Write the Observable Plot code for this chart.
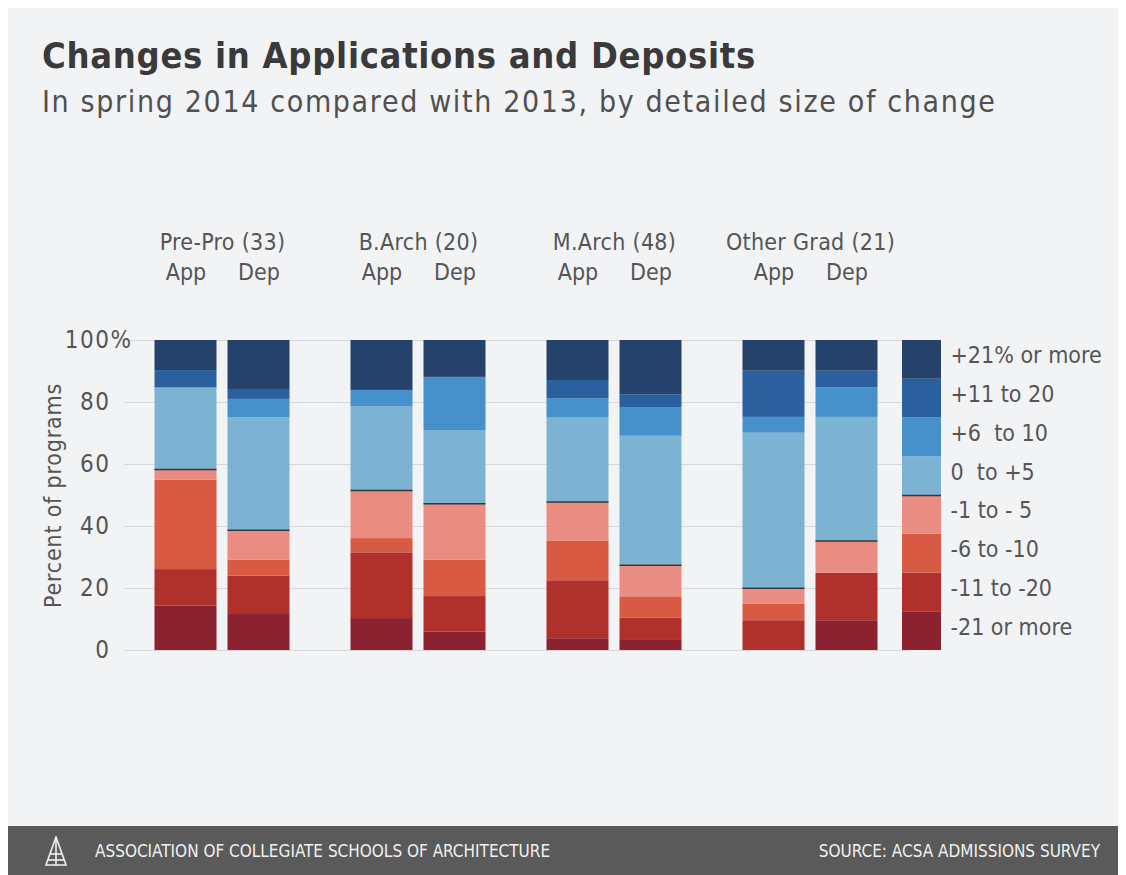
<!DOCTYPE html>
<html>
<head>
<meta charset="utf-8">
<script src="https://cdn.jsdelivr.net/npm/d3@7"></script>
<script src="https://cdn.jsdelivr.net/npm/@observablehq/plot@0.6"></script>
<style>
  body { margin: 0; background: #ffffff; width: 1126px; height: 875px; overflow: hidden; position: relative; }
  #panel { position: absolute; left: 8px; top: 8px; width: 1110px; height: 818px; background: #f2f3f5; }
  #title { position: absolute; left: 34px; top: 30px; font-family: "DejaVu Sans Condensed", "DejaVu Sans", sans-serif; font-weight: bold; font-size: 36px; letter-spacing: 0.7px; color: #3a3a3a; line-height: 1; white-space: nowrap; }
  #subtitle { position: absolute; left: 34px; top: 79px; font-family: "DejaVu Sans Condensed", "DejaVu Sans", sans-serif; font-size: 30px; letter-spacing: 1.65px; color: #505050; line-height: 1; white-space: nowrap; }
  #chart { position: absolute; left: 0; top: 207px; }
  #legend { position: absolute; left: 887px; top: 207px; }
  #footer { position: absolute; left: 8px; top: 826px; width: 1110px; height: 49px; background: #5a5a5a; color: #f0f0f0; font-family: "DejaVu Sans Condensed", sans-serif; font-size: 17px; }
  #footer .left { position: absolute; left: 87px; top: 15px; white-space: nowrap; }
  #footer .right { position: absolute; right: 18px; top: 15px; white-space: nowrap; }
  #footer svg { position: absolute; left: 36px; top: 10px; }
  text { white-space: pre; }
  #chart g[aria-label="fx-axis tick label"] { letter-spacing: 0.3px; }
  #chart g[aria-label="y-axis tick label"] { letter-spacing: 1.5px; }
  #chart g[aria-label="text"] { letter-spacing: 0.8px; }
</style>
</head>
<body>
<div id="panel">
  <div id="title">Changes in Applications and Deposits</div>
  <div id="subtitle">In spring 2014 compared with 2013, by detailed size of change</div>
  <div id="chart"></div>
  <div id="legend"></div>
</div>
<div id="footer">
  <svg width="24" height="30" viewBox="0 0 24 30">
    <g stroke="#f0f0f0" stroke-width="1.6" fill="none">
      <path d="M12 1 L2 29 L22 29 Z"/>
      <path d="M12 1 L12 29"/>
      <path d="M6 18 L18 18"/>
      <path d="M4 24 L20 24"/>
    </g>
  </svg>
  <div class="left">ASSOCIATION OF COLLEGIATE SCHOOLS OF ARCHITECTURE</div>
  <div class="right">SOURCE: ACSA ADMISSIONS SURVEY</div>
</div>
<script>
// ---- data ----
const groups = ["Pre-Pro (33)", "B.Arch (20)", "M.Arch (48)", "Other Grad (21)"];
const measures = ["App", "Dep"];
// categories listed bottom → top of each stack
const categories = ["-21 or more", "-11 to -20", "-6 to -10", "-1 to - 5", "0\u00a0 to +5", "+6\u00a0 to 10", "+11 to 20", "+21% or more"];
const colors = ["#8c2130", "#b0302b", "#d95a43", "#e98c82", "#7cb3d3", "#4690cb", "#2a609e", "#25426a"];
const yTicks = [0, 20, 40, 60, 80];
const yTop = [100];
// percent of programs in each category (bottom → top)
const prePro = [
  [14.3, 11.8, 28.8, 3.5, 26.3, 0, 5.6, 9.7],
  [11.6, 12.4, 5.1, 9.7, 36.3, 5.9, 3.2, 15.8]
];
const bArch = [
  [10.3, 21.2, 4.6, 15.5, 27.1, 5.2, 0, 16.1],
  [6.0, 11.4, 11.7, 18.2, 23.5, 17.3, 0, 11.9]
];
const mArch = [
  [3.8, 18.7, 12.7, 12.7, 27.1, 6.2, 5.9, 12.9],
  [3.5, 6.9, 6.9, 10.2, 41.6, 9.1, 4.3, 17.5]
];
const otherGrad = [
  [0, 9.6, 5.4, 5.1, 50.0, 5.1, 14.9, 9.9],
  [9.6, 15.3, 0, 10.4, 39.9, 9.6, 5.3, 9.9]
];
const legendShare = [12.5, 12.5, 12.5, 12.5, 12.5, 12.5, 12.5, 12.5];

// ---- tables ----
const series = [prePro, bArch, mArch, otherGrad];
const rows = [];
const seps = [];
groups.forEach((g, gi) => measures.forEach((m, mi) => {
  const vals = series[gi][mi];
  vals.forEach((v, ci) => rows.push({group: g, measure: m, category: categories[ci], value: v}));
  seps.push({group: g, measure: m, y: d3.sum(vals.slice(0, 4))});
}));
const legendRows = categories.map((c, i) => ({category: c, share: legendShare[i]}));
const legendSep = [d3.sum(legendShare.slice(0, 4))];

const font = '"DejaVu Sans Condensed", "DejaVu Sans", sans-serif';
const textColor = "#555555";

const chart = Plot.plot({
  width: 1110,
  height: 455,
  marginTop: 125,
  marginBottom: 20,
  marginLeft: 115.5,
  marginRight: 210.5,
  style: {background: "transparent", fontFamily: font, fontSize: "23px", color: textColor, overflow: "visible"},
  fx: {domain: groups, padding: 0, label: null},
  x: {domain: measures, paddingInner: 0.149, paddingOuter: 0.399, label: null},
  y: {domain: [0, 100], label: null},
  color: {domain: categories, range: colors},
  marks: [
    Plot.gridY({ticks: [0, 20, 40, 60, 80, 100], stroke: "#d6d8db", strokeOpacity: 1, strokeWidth: 1}),
    Plot.barY(rows, {fx: "group", x: "measure", y: "value", fill: "category"}),
    Plot.tickY(seps, {fx: "group", x: "measure", y: "y", stroke: "#33363a", strokeWidth: 1.5}),
    Plot.axisY({ticks: yTicks, tickSize: 0, tickPadding: 14, label: null, fill: textColor, fontSize: 24}),
    Plot.axisY({ticks: yTop, tickFormat: d => d + "%", tickSize: 0, tickPadding: 14, dx: 22, label: null, fill: textColor, fontSize: 24}),
    Plot.axisX({anchor: "top", tickSize: 0, tickPadding: 61, label: null, fill: textColor, fontSize: 23}),
    Plot.axisFx({anchor: "top", tickSize: 0, tickPadding: 91, label: null, fill: textColor, fontSize: 23}),
    Plot.text([groups[0]], {fx: d => d, text: () => "Percent of programs", frameAnchor: "left", textAnchor: "middle", rotate: -90, dx: -71, fill: textColor, fontSize: 23})
  ]
});
document.getElementById("chart").append(chart);

const legend = Plot.plot({
  width: 215,
  height: 455,
  marginTop: 125,
  marginBottom: 20,
  marginLeft: 7,
  marginRight: 169,
  style: {background: "transparent", fontFamily: font, fontSize: "23px", color: textColor, overflow: "visible"},
  y: {domain: [0, 100], axis: null},
  color: {domain: categories, range: colors},
  marks: [
    Plot.barY(legendRows, {y: "share", fill: "category"}),
    Plot.ruleY(legendSep, {stroke: "#33363a", strokeWidth: 1.5}),
    Plot.text(legendRows, Plot.stackY({y: "share", z: "category", text: "category", frameAnchor: "right", dx: 9, dy: -4, textAnchor: "start", fill: textColor}))
  ]
});
document.getElementById("legend").append(legend);
</script>
</body>
</html>
